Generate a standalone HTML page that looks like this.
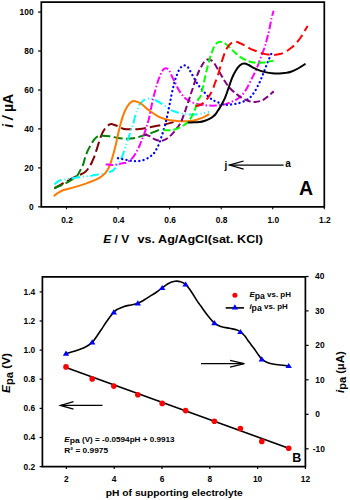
<!DOCTYPE html>
<html><head><meta charset="utf-8"><style>
html,body{margin:0;padding:0;background:#fff;}
svg{display:block;}
text{font-family:"Liberation Sans",sans-serif;font-weight:bold;fill:#000;}
</style></head>
<body><svg width="350" height="500" viewBox="0 0 350 500">
<rect width="350" height="500" fill="#fff"/>
<path d="M54.4,188.2 C55.0,187.8 56.2,187.0 58.0,186.0 C59.8,185.0 62.7,183.5 65.0,182.2 C67.3,180.9 70.2,179.3 72.0,178.3 C73.8,177.3 74.5,177.0 76.0,176.4 C77.5,175.8 79.1,175.3 80.7,174.5 C82.3,173.7 84.3,172.6 85.7,171.4 C87.1,170.2 88.2,168.7 89.3,167.1 C90.3,165.5 91.2,163.8 92.0,162.0 C92.8,160.2 93.3,159.2 94.3,156.6 C95.2,154.0 96.6,149.7 97.7,146.3 C98.8,142.9 99.9,138.9 101.1,136.0 C102.2,133.1 103.3,130.9 104.6,129.1 C105.9,127.2 107.8,125.8 108.9,124.9 C110.0,124.1 110.2,123.9 111.4,124.0 C112.6,124.1 114.6,124.9 116.0,125.5 C117.4,126.1 118.7,126.8 120.0,127.4 C121.3,128.0 122.2,128.6 124.0,128.9 C125.8,129.2 128.4,129.2 131.0,129.2 C133.6,129.2 136.4,129.3 139.4,129.0 C142.4,128.7 145.8,128.0 149.0,127.4 C152.2,126.8 155.9,126.1 158.6,125.6 C161.3,125.1 162.5,125.0 165.0,124.4 C167.5,123.8 172.2,122.5 173.6,122.1" fill="none" stroke="#800000" stroke-width="2.0" stroke-dasharray="10.5,4" stroke-linecap="butt" stroke-linejoin="round"/>
<path d="M54.3,188.6 C55.1,188.2 57.3,187.0 59.3,186.1 C61.3,185.2 64.0,184.2 66.4,182.9 C68.8,181.7 71.8,179.8 73.6,178.6 C75.4,177.4 76.0,177.1 77.0,176.0 C78.0,174.9 78.3,173.9 79.3,172.1 C80.3,170.3 82.0,167.3 82.9,165.0 C83.9,162.7 84.2,160.3 85.0,158.0 C85.8,155.7 86.4,153.6 87.4,151.4 C88.4,149.2 89.8,146.6 90.9,144.6 C92.1,142.6 93.2,140.8 94.3,139.4 C95.4,138.0 96.3,136.9 97.7,136.3 C99.1,135.7 100.9,135.7 102.9,135.7 C104.9,135.7 107.4,136.0 109.7,136.3 C112.0,136.6 114.4,137.3 116.6,137.7 C118.8,138.1 120.5,138.4 122.9,138.6 C125.3,138.8 128.7,138.8 131.0,138.6 C133.3,138.4 134.8,138.2 137.0,137.6 C139.2,137.0 142.0,135.9 144.2,135.2 C146.4,134.5 148.4,134.0 150.2,133.4 C152.0,132.8 153.4,132.3 155.0,131.6 C156.6,130.9 159.2,129.7 160.0,129.3" fill="none" stroke="#008000" stroke-width="2.0" stroke-dasharray="9,3.5" stroke-linecap="butt" stroke-linejoin="round"/>
<path d="M54.3,184.3 C55.1,183.7 57.3,181.5 59.3,180.7 C61.3,179.9 64.0,179.7 66.4,179.3 C68.8,178.9 71.0,178.5 73.6,178.1 C76.2,177.7 79.4,177.0 82.1,176.7 C84.8,176.3 87.3,176.4 90.0,176.0 C92.7,175.6 95.3,174.9 98.0,174.4 C100.7,173.9 103.7,173.6 106.0,173.0 C108.3,172.4 110.3,171.9 112.0,171.0 C113.7,170.1 114.8,168.8 116.0,167.5 C117.2,166.2 118.0,164.8 119.0,163.0 C120.0,161.2 121.0,159.4 122.0,157.0 C123.0,154.6 124.1,151.0 125.0,148.4 C125.9,145.8 126.5,144.0 127.4,141.2 C128.3,138.4 129.4,134.6 130.4,131.6 C131.4,128.6 132.6,125.9 133.4,123.2 C134.2,120.5 134.7,117.7 135.3,115.5 C135.9,113.3 136.5,111.8 137.2,110.0 C137.9,108.2 138.5,106.2 139.7,104.5 C140.9,102.8 142.6,100.8 144.3,99.8 C146.0,98.8 148.1,98.5 150.0,98.6 C151.9,98.7 153.8,99.5 156.0,100.5 C158.2,101.5 160.7,103.0 163.0,104.5 C165.3,106.0 167.8,108.2 170.0,109.5 C172.2,110.8 173.6,111.2 176.0,112.0 C178.4,112.8 181.5,113.6 184.3,114.0 C187.1,114.4 190.1,114.5 192.9,114.5 C195.8,114.5 198.7,114.2 201.4,113.7 C204.1,113.2 207.7,112.1 209.0,111.8" fill="none" stroke="#00ffff" stroke-width="2.0" stroke-dasharray="8.5,3,1,2.6,1,2.7" stroke-linecap="butt" stroke-linejoin="round"/>
<path d="M54.3,195.7 C54.9,195.2 56.5,193.8 58.0,192.9 C59.5,192.0 61.0,190.9 63.6,190.0 C66.2,189.1 70.3,188.3 73.6,187.4 C76.9,186.5 80.9,185.3 83.6,184.4 C86.3,183.5 87.9,182.8 90.0,182.0 C92.1,181.2 94.2,180.4 96.0,179.6 C97.8,178.8 99.0,178.2 100.5,177.2 C102.0,176.2 103.8,174.6 105.0,173.4 C106.2,172.2 106.7,171.3 107.5,170.0 C108.3,168.7 109.1,167.2 109.8,165.4 C110.5,163.7 111.1,161.6 111.8,159.5 C112.5,157.4 113.1,155.3 113.8,152.6 C114.5,149.8 115.4,146.5 116.2,143.0 C117.0,139.5 117.8,135.3 118.6,131.8 C119.4,128.3 120.1,125.4 121.0,122.2 C121.9,119.0 123.1,115.3 124.2,112.6 C125.3,109.9 126.2,108.0 127.4,106.2 C128.6,104.4 130.1,102.6 131.4,101.8 C132.7,101.0 133.4,100.9 135.0,101.2 C136.6,101.5 138.6,102.0 140.9,103.5 C143.2,105.0 146.1,108.2 148.9,110.3 C151.8,112.4 155.3,114.8 158.0,116.3 C160.7,117.8 162.7,118.3 165.0,119.0 C167.3,119.7 169.5,120.2 172.0,120.6 C174.5,121.0 177.7,121.1 180.0,121.2 C182.3,121.3 183.8,121.3 186.0,121.2 C188.2,121.1 190.3,121.2 192.9,120.7 C195.5,120.2 198.8,119.1 201.4,118.1 C204.0,117.1 207.3,115.1 208.5,114.5" fill="none" stroke="#ff7a00" stroke-width="2.0" stroke-linecap="round" stroke-linejoin="round"/>
<path d="M105.7,164.4 C106.8,164.5 110.0,165.0 112.0,165.0 C114.0,165.0 116.2,164.7 118.0,164.4 C119.8,164.1 121.2,163.5 122.5,163.2 C123.8,162.9 124.4,163.3 125.6,162.8 C126.8,162.3 128.5,161.4 129.8,160.4 C131.1,159.4 132.3,158.2 133.4,156.8 C134.5,155.4 135.4,153.8 136.4,152.0 C137.4,150.2 138.5,148.0 139.4,146.0 C140.3,144.0 141.0,142.0 141.8,140.0 C142.6,138.0 143.4,136.2 144.2,134.0 C145.0,131.8 145.8,129.4 146.6,126.8 C147.4,124.2 148.2,121.5 149.0,118.4 C149.8,115.3 150.4,111.4 151.1,108.0 C151.8,104.6 152.5,101.2 153.3,98.0 C154.1,94.8 154.9,91.7 155.7,88.9 C156.5,86.1 157.2,83.3 158.0,81.0 C158.8,78.7 159.6,76.8 160.3,75.1 C161.1,73.3 161.7,71.6 162.5,70.5 C163.3,69.4 164.1,68.8 164.9,68.5 C165.7,68.2 166.4,68.3 167.2,68.7 C167.9,69.1 168.6,69.5 169.4,70.8 C170.2,72.1 171.2,74.7 172.0,76.5 C172.8,78.3 173.5,79.5 174.5,81.5 C175.5,83.5 176.9,86.5 178.0,88.5 C179.1,90.5 179.9,92.0 181.0,93.5 C182.1,95.0 183.2,96.3 184.3,97.4 C185.4,98.5 186.3,99.1 187.7,100.0 C189.1,100.9 190.9,101.8 192.9,102.6 C194.9,103.3 197.8,104.1 199.7,104.5 C201.6,104.9 202.6,105.0 204.3,105.2 C206.0,105.4 208.1,105.5 210.0,105.6 C211.9,105.7 213.7,105.7 215.7,105.6 C217.7,105.5 220.1,105.1 222.0,104.8 C223.9,104.5 225.7,104.0 227.1,103.6 C228.5,103.2 229.1,102.9 230.7,102.2 C232.2,101.5 234.7,100.6 236.4,99.6 C238.1,98.6 239.3,97.8 240.7,96.4 C242.1,95.0 243.6,93.5 245.0,91.4 C246.4,89.3 248.0,86.1 249.3,83.6 C250.6,81.1 251.8,78.6 252.9,76.4 C254.0,74.2 254.8,72.8 255.7,70.7 C256.6,68.6 257.7,65.9 258.6,63.6 C259.5,61.3 260.0,59.6 261.0,57.0 C262.0,54.4 263.4,50.9 264.4,48.0 C265.4,45.1 266.0,42.6 266.8,39.6 C267.6,36.6 268.4,33.6 269.2,30.0 C270.0,26.4 270.9,21.2 271.6,18.0 C272.3,14.8 273.3,12.0 273.6,10.8" fill="none" stroke="#ff00ff" stroke-width="2.0" stroke-dasharray="7.5,2.2,1.5,2.2" stroke-linecap="butt" stroke-linejoin="round"/>
<path d="M118.0,158.2 C119.4,158.5 123.4,159.3 126.2,159.8 C129.0,160.3 131.8,161.1 134.6,161.2 C137.4,161.3 140.4,161.0 143.0,160.2 C145.6,159.4 148.3,157.8 150.2,156.5 C152.1,155.2 153.0,154.5 154.4,152.6 C155.8,150.7 157.4,147.5 158.6,144.8 C159.8,142.1 160.7,139.1 161.6,136.4 C162.5,133.7 163.2,131.3 164.0,128.6 C164.8,125.9 165.5,123.4 166.3,120.0 C167.1,116.6 168.0,112.2 168.9,108.0 C169.8,103.8 170.7,99.0 171.5,95.0 C172.3,91.0 173.2,87.2 174.0,84.0 C174.8,80.8 175.5,78.6 176.5,76.0 C177.5,73.4 178.8,70.2 180.0,68.5 C181.2,66.8 182.5,65.9 183.5,65.5 C184.5,65.1 185.1,65.5 186.0,66.0 C186.9,66.5 188.1,67.2 189.0,68.5 C189.9,69.8 189.9,70.8 191.5,73.5 C193.1,76.2 196.1,81.8 198.3,85.0 C200.6,88.2 203.1,90.8 205.0,93.0 C206.9,95.2 208.2,96.6 210.0,98.0 C211.8,99.4 213.2,100.3 215.7,101.4 C218.2,102.5 222.2,104.3 224.9,104.8 C227.6,105.3 229.7,104.6 232.1,104.3 C234.5,104.0 237.1,103.6 239.3,103.0 C241.5,102.4 243.6,101.5 245.4,100.6 C247.2,99.7 248.6,99.0 250.2,97.4 C251.8,95.8 253.5,93.4 254.9,91.2 C256.3,89.0 257.6,86.4 258.8,84.0 C260.0,81.6 260.9,79.2 262.0,76.7 C263.1,74.2 264.1,71.5 265.1,68.9 C266.1,66.3 267.1,63.6 268.2,61.0 C269.3,58.4 271.0,54.6 271.6,53.3" fill="none" stroke="#0000ff" stroke-width="2.3" stroke-dasharray="0.1,4.2" stroke-linecap="round" stroke-linejoin="round"/>
<path d="M144.2,134.6 C145.0,134.8 147.4,135.1 149.0,135.8 C150.6,136.5 152.2,138.0 153.8,138.8 C155.4,139.6 157.2,140.3 158.6,140.6 C160.0,140.9 161.0,141.0 162.5,140.6 C164.0,140.2 165.8,139.4 167.5,138.2 C169.2,137.0 170.9,135.3 172.5,133.6 C174.1,131.9 175.7,129.8 177.0,128.0 C178.3,126.2 179.3,125.2 180.5,123.0 C181.7,120.8 182.8,117.7 184.0,114.5 C185.2,111.3 186.4,107.2 187.5,104.0 C188.6,100.8 189.6,97.8 190.5,95.0 C191.4,92.2 192.3,89.8 193.2,87.0 C194.1,84.2 195.0,81.2 196.0,78.5 C197.0,75.8 198.0,73.2 199.0,71.0 C200.0,68.8 201.0,67.1 201.9,65.5 C202.8,63.9 203.6,62.5 204.5,61.5 C205.4,60.5 206.4,59.8 207.4,59.5 C208.4,59.2 209.3,59.4 210.5,60.0 C211.7,60.6 212.5,60.9 214.3,63.4 C216.1,65.9 219.3,71.9 221.1,74.9 C222.9,77.9 223.6,79.4 225.0,81.5 C226.4,83.6 227.6,85.6 229.3,87.5 C231.0,89.4 233.1,91.2 235.0,92.8 C236.9,94.4 238.5,96.0 240.7,97.3 C242.8,98.6 245.5,100.0 247.9,100.8 C250.3,101.6 252.6,102.0 255.0,101.9 C257.4,101.8 260.0,101.3 262.1,100.4 C264.2,99.5 265.9,97.9 267.9,96.4 C269.8,94.9 272.8,92.2 273.8,91.4" fill="none" stroke="#800080" stroke-width="2.0" stroke-dasharray="6.5,3" stroke-linecap="butt" stroke-linejoin="round"/>
<path d="M163.5,130.0 C164.2,130.1 166.5,130.3 168.0,130.3 C169.5,130.3 170.8,130.4 172.3,130.1 C173.8,129.8 175.7,129.1 177.1,128.6 C178.5,128.1 179.8,127.6 181.0,127.0 C182.2,126.4 183.4,125.5 184.5,124.8 C185.6,124.0 186.5,123.5 187.5,122.5 C188.5,121.5 189.6,119.9 190.5,118.5 C191.4,117.1 192.2,115.6 193.0,114.0 C193.8,112.4 194.3,111.3 195.1,109.0 C195.9,106.7 197.1,102.2 198.0,100.0 C198.9,97.8 199.8,98.2 200.6,96.0 C201.4,93.8 202.2,90.2 203.0,87.0 C203.8,83.8 204.3,80.4 205.1,77.1 C205.8,73.8 206.7,70.0 207.5,67.0 C208.3,64.0 208.9,61.4 209.7,58.9 C210.4,56.4 211.2,54.1 212.0,52.0 C212.8,49.9 213.5,47.8 214.3,46.3 C215.1,44.8 216.1,43.8 217.0,43.0 C217.9,42.2 219.0,41.8 220.0,41.7 C221.0,41.6 222.1,42.1 223.0,42.5 C223.9,42.9 224.5,43.1 225.7,44.0 C226.9,44.9 228.5,46.4 230.0,47.8 C231.5,49.2 233.1,51.0 234.9,52.6 C236.7,54.2 238.4,55.9 240.7,57.3 C243.0,58.7 246.0,60.3 248.6,61.2 C251.2,62.1 253.8,62.6 256.4,62.8 C259.0,63.0 262.2,62.7 264.3,62.5 C266.4,62.3 267.4,61.9 269.0,61.6 C270.6,61.3 272.8,60.8 273.6,60.6" fill="none" stroke="#00ff00" stroke-width="2.0" stroke-dasharray="7,3" stroke-linecap="butt" stroke-linejoin="round"/>
<path d="M195.4,106.1 C196.1,106.0 198.2,105.8 199.4,105.3 C200.7,104.8 201.8,104.2 202.9,103.3 C204.1,102.4 205.2,101.2 206.3,99.9 C207.4,98.6 208.6,97.2 209.7,95.3 C210.8,93.4 212.2,90.5 213.1,88.4 C214.0,86.4 214.2,85.1 215.0,83.0 C215.8,80.9 216.8,78.8 217.7,76.0 C218.6,73.2 219.6,69.2 220.5,66.0 C221.4,62.8 222.5,59.3 223.4,56.6 C224.3,53.9 225.1,51.9 226.0,50.0 C226.9,48.1 228.1,46.4 229.1,45.1 C230.1,43.9 231.0,43.1 232.0,42.5 C233.0,41.9 233.9,41.7 234.9,41.7 C235.9,41.7 236.9,41.9 238.0,42.3 C239.1,42.7 240.4,43.4 241.7,44.0 C243.0,44.6 244.6,45.2 246.0,46.0 C247.4,46.8 248.3,47.8 250.0,48.6 C251.7,49.4 254.0,50.2 256.0,51.0 C258.0,51.8 260.0,52.8 262.0,53.4 C264.0,54.0 266.0,54.4 268.0,54.6 C270.0,54.9 272.0,55.0 274.0,54.9 C276.0,54.8 278.2,54.5 280.0,54.0 C281.8,53.5 283.1,53.1 284.8,52.2 C286.5,51.3 288.5,49.9 290.0,48.8 C291.5,47.7 292.7,46.8 294.0,45.5 C295.3,44.2 296.8,42.4 298.0,41.0 C299.2,39.6 300.0,38.5 301.0,37.0 C302.0,35.5 302.9,33.8 304.0,32.0 C305.1,30.2 307.0,27.0 307.6,26.0" fill="none" stroke="#ff0000" stroke-width="2.0" stroke-dasharray="9,4.5" stroke-linecap="butt" stroke-linejoin="round"/>
<path d="M188.5,122.4 C189.4,122.4 192.1,122.3 194.0,122.2 C195.9,122.1 197.9,122.2 199.7,122.0 C201.5,121.8 203.4,121.2 204.9,120.7 C206.4,120.2 207.6,119.8 208.9,119.2 C210.2,118.6 211.4,117.9 212.5,117.0 C213.6,116.1 214.8,115.1 215.7,114.0 C216.6,112.9 217.2,111.7 218.0,110.5 C218.8,109.3 219.5,108.3 220.3,107.0 C221.1,105.7 221.9,104.0 222.7,102.5 C223.5,101.0 224.0,100.3 225.0,97.9 C226.0,95.5 227.4,91.2 228.6,87.9 C229.8,84.6 230.9,80.8 232.1,77.9 C233.3,75.0 234.4,72.8 235.7,70.7 C237.0,68.6 238.6,66.5 240.0,65.3 C241.4,64.1 242.9,63.6 244.3,63.6 C245.7,63.6 247.1,64.3 248.6,65.0 C250.1,65.7 251.8,67.0 253.6,67.9 C255.4,68.8 257.2,69.7 259.3,70.4 C261.4,71.2 264.3,71.9 266.4,72.4 C268.5,72.9 269.8,73.1 272.0,73.3 C274.2,73.5 277.5,73.5 279.7,73.5 C281.9,73.5 283.1,73.3 285.0,73.0 C286.9,72.7 288.8,72.5 291.0,71.7 C293.2,71.0 295.7,69.8 298.0,68.5 C300.3,67.2 303.8,64.9 304.9,64.2" fill="none" stroke="#000000" stroke-width="2.0" stroke-linecap="round" stroke-linejoin="round"/>
<path d="M41.3,2.1 H324.3 V206.8 H41.3 Z" fill="none" stroke="#000" stroke-width="1.7"/>
<line x1="38.1" y1="206.8" x2="41.3" y2="206.8" stroke="#000" stroke-width="1.2"/>
<text transform="translate(33.60,209.80)" text-anchor="end" font-size="8.40">0</text>
<line x1="38.1" y1="167.9" x2="41.3" y2="167.9" stroke="#000" stroke-width="1.2"/>
<text transform="translate(33.60,170.85)" text-anchor="end" font-size="8.40">20</text>
<line x1="38.1" y1="128.9" x2="41.3" y2="128.9" stroke="#000" stroke-width="1.2"/>
<text transform="translate(33.60,131.90)" text-anchor="end" font-size="8.40">40</text>
<line x1="38.1" y1="90.0" x2="41.3" y2="90.0" stroke="#000" stroke-width="1.2"/>
<text transform="translate(33.60,92.95)" text-anchor="end" font-size="8.40">60</text>
<line x1="38.1" y1="51.0" x2="41.3" y2="51.0" stroke="#000" stroke-width="1.2"/>
<text transform="translate(33.60,54.00)" text-anchor="end" font-size="8.40">80</text>
<line x1="38.1" y1="12.1" x2="41.3" y2="12.1" stroke="#000" stroke-width="1.2"/>
<text transform="translate(33.60,15.05)" text-anchor="end" font-size="8.40">100</text>
<line x1="66.5" y1="206.8" x2="66.5" y2="209.2" stroke="#000" stroke-width="1.1"/>
<text transform="translate(67.00,222.60)" text-anchor="middle" font-size="8.40">0.2</text>
<line x1="118.1" y1="206.8" x2="118.1" y2="209.2" stroke="#000" stroke-width="1.1"/>
<text transform="translate(118.56,222.60)" text-anchor="middle" font-size="8.40">0.4</text>
<line x1="169.6" y1="206.8" x2="169.6" y2="209.2" stroke="#000" stroke-width="1.1"/>
<text transform="translate(170.12,222.60)" text-anchor="middle" font-size="8.40">0.6</text>
<line x1="221.2" y1="206.8" x2="221.2" y2="209.2" stroke="#000" stroke-width="1.1"/>
<text transform="translate(221.68,222.60)" text-anchor="middle" font-size="8.40">0.8</text>
<line x1="272.7" y1="206.8" x2="272.7" y2="209.2" stroke="#000" stroke-width="1.1"/>
<text transform="translate(273.24,222.60)" text-anchor="middle" font-size="8.40">1.0</text>
<line x1="324.3" y1="206.8" x2="324.3" y2="209.2" stroke="#000" stroke-width="1.1"/>
<text transform="translate(324.80,222.60)" text-anchor="middle" font-size="8.40">1.2</text>
<text transform="translate(13.30,110.80) rotate(-90)" text-anchor="middle" font-size="14.00"><tspan font-style="italic">i / </tspan>&#181;A</text>
<text transform="translate(103.20,243.40) scale(1.100,1)" text-anchor="start" font-size="10.90"><tspan font-style="italic">E</tspan> / V</text>
<text x="137.6" y="243.4" font-size="10.9" textLength="125.3" lengthAdjust="spacingAndGlyphs">vs. Ag/AgCl(sat. KCl)</text>
<text transform="translate(306.00,195.20)" text-anchor="middle" font-size="19.50">A</text>
<line x1="229.5" y1="165.1" x2="283.6" y2="165.1" stroke="#000" stroke-width="1.3"/>
<path d="M243.6,161 L229.5,165.1 L243.6,169.2" fill="none" stroke="#000" stroke-width="1.3"/>
<text transform="translate(226.00,168.60)" text-anchor="middle" font-size="10.00">j</text>
<text transform="translate(288.00,166.70)" text-anchor="middle" font-size="10.00">a</text>
<path d="M66.0,353.6 C67.5,353.2 71.8,352.1 75.0,351.0 C78.2,349.9 82.1,348.6 85.0,347.2 C87.9,345.8 90.2,344.3 92.2,342.4 C94.2,340.5 95.5,338.1 97.0,336.0 C98.5,333.9 99.3,332.5 101.0,330.0 C102.7,327.5 104.9,323.9 107.0,321.0 C109.1,318.1 111.9,314.2 113.6,312.3 C115.3,310.4 115.5,310.3 117.1,309.4 C118.6,308.5 121.0,307.6 122.9,306.9 C124.8,306.2 126.7,305.8 128.6,305.4 C130.5,305.0 132.8,304.6 134.3,304.3 C135.8,304.0 136.4,303.9 137.8,303.3 C139.2,302.7 141.1,301.7 142.9,300.7 C144.7,299.7 146.4,298.5 148.6,297.1 C150.8,295.7 153.7,294.1 156.0,292.5 C158.3,290.9 160.3,289.3 162.3,287.8 C164.3,286.3 165.9,284.8 168.0,283.7 C170.1,282.6 172.8,281.6 174.9,281.3 C177.0,281.0 178.8,281.2 180.6,281.7 C182.4,282.2 183.9,282.8 185.6,284.3 C187.3,285.9 189.1,288.4 190.9,291.0 C192.7,293.6 195.0,297.7 196.6,300.1 C198.2,302.5 198.6,302.9 200.3,305.3 C202.1,307.7 204.7,311.7 207.1,314.7 C209.5,317.7 212.2,321.2 214.5,323.2 C216.8,325.2 218.4,325.6 220.9,326.5 C223.4,327.4 226.8,327.8 229.4,328.3 C232.0,328.9 234.5,329.2 236.3,329.8 C238.1,330.4 239.0,330.8 240.4,331.8 C241.8,332.9 243.5,334.4 244.9,336.1 C246.3,337.8 247.6,340.1 249.1,342.1 C250.6,344.1 252.1,345.8 253.7,348.0 C255.3,350.2 257.5,353.6 258.9,355.5 C260.3,357.4 260.5,358.0 261.9,359.2 C263.3,360.4 265.3,361.8 267.4,362.6 C269.5,363.5 271.7,363.9 274.3,364.3 C276.9,364.8 280.5,365.1 282.9,365.3 C285.3,365.6 287.7,365.7 288.7,365.8" fill="none" stroke="#000" stroke-width="1.6"/>
<line x1="66" y1="367.4" x2="288.7" y2="448.3" stroke="#000" stroke-width="1.6"/>
<path d="M66.0,350.5 L69.2,355.7 L62.8,355.7 Z" fill="#0000ff"/>
<path d="M92.2,339.3 L95.4,344.5 L89.0,344.5 Z" fill="#0000ff"/>
<path d="M113.8,309.2 L117.0,314.4 L110.6,314.4 Z" fill="#0000ff"/>
<path d="M137.8,300.2 L141.0,305.4 L134.6,305.4 Z" fill="#0000ff"/>
<path d="M162.2,284.9 L165.4,290.1 L159.0,290.1 Z" fill="#0000ff"/>
<path d="M185.6,281.4 L188.8,286.6 L182.4,286.6 Z" fill="#0000ff"/>
<path d="M214.4,320.1 L217.6,325.3 L211.2,325.3 Z" fill="#0000ff"/>
<path d="M240.4,328.9 L243.6,334.1 L237.2,334.1 Z" fill="#0000ff"/>
<path d="M261.8,356.2 L265.0,361.4 L258.6,361.4 Z" fill="#0000ff"/>
<path d="M288.7,362.9 L291.9,368.1 L285.5,368.1 Z" fill="#0000ff"/>
<circle cx="66.0" cy="366.9" r="2.8" fill="#ff0000"/>
<circle cx="92.2" cy="378.9" r="2.8" fill="#ff0000"/>
<circle cx="113.8" cy="386.1" r="2.8" fill="#ff0000"/>
<circle cx="137.8" cy="394.8" r="2.8" fill="#ff0000"/>
<circle cx="162.2" cy="403.4" r="2.8" fill="#ff0000"/>
<circle cx="185.6" cy="410.6" r="2.8" fill="#ff0000"/>
<circle cx="214.4" cy="421.3" r="2.8" fill="#ff0000"/>
<circle cx="240.4" cy="428.6" r="2.8" fill="#ff0000"/>
<circle cx="261.8" cy="441.4" r="2.8" fill="#ff0000"/>
<circle cx="288.7" cy="448.3" r="2.8" fill="#ff0000"/>
<path d="M42.4,276.9 H305.4 V466.6 H42.4 Z" fill="none" stroke="#000" stroke-width="1.7"/>
<line x1="39.6" y1="466.6" x2="42.4" y2="466.6" stroke="#000" stroke-width="1.2"/>
<text transform="translate(35.20,469.60)" text-anchor="end" font-size="8.40">0.2</text>
<line x1="39.6" y1="437.5" x2="42.4" y2="437.5" stroke="#000" stroke-width="1.2"/>
<text transform="translate(35.20,440.48)" text-anchor="end" font-size="8.40">0.4</text>
<line x1="39.6" y1="408.4" x2="42.4" y2="408.4" stroke="#000" stroke-width="1.2"/>
<text transform="translate(35.20,411.36)" text-anchor="end" font-size="8.40">0.6</text>
<line x1="39.6" y1="379.2" x2="42.4" y2="379.2" stroke="#000" stroke-width="1.2"/>
<text transform="translate(35.20,382.24)" text-anchor="end" font-size="8.40">0.8</text>
<line x1="39.6" y1="350.1" x2="42.4" y2="350.1" stroke="#000" stroke-width="1.2"/>
<text transform="translate(35.20,353.12)" text-anchor="end" font-size="8.40">1.0</text>
<line x1="39.6" y1="321.0" x2="42.4" y2="321.0" stroke="#000" stroke-width="1.2"/>
<text transform="translate(35.20,324.00)" text-anchor="end" font-size="8.40">1.2</text>
<line x1="39.6" y1="291.9" x2="42.4" y2="291.9" stroke="#000" stroke-width="1.2"/>
<text transform="translate(35.20,294.88)" text-anchor="end" font-size="8.40">1.4</text>
<line x1="305.4" y1="276.5" x2="308.6" y2="276.5" stroke="#000" stroke-width="1.2"/>
<text transform="translate(315.00,279.46)" text-anchor="start" font-size="8.40">40</text>
<line x1="305.4" y1="310.9" x2="308.6" y2="310.9" stroke="#000" stroke-width="1.2"/>
<text transform="translate(315.00,313.92)" text-anchor="start" font-size="8.40">30</text>
<line x1="305.4" y1="345.4" x2="308.6" y2="345.4" stroke="#000" stroke-width="1.2"/>
<text transform="translate(315.30,348.38)" text-anchor="start" font-size="8.40">20</text>
<line x1="305.4" y1="379.8" x2="308.6" y2="379.8" stroke="#000" stroke-width="1.2"/>
<text transform="translate(315.30,382.84)" text-anchor="start" font-size="8.40">10</text>
<line x1="305.4" y1="414.3" x2="308.6" y2="414.3" stroke="#000" stroke-width="1.2"/>
<text transform="translate(315.30,417.30)" text-anchor="start" font-size="8.40">0</text>
<line x1="305.4" y1="448.8" x2="308.6" y2="448.8" stroke="#000" stroke-width="1.2"/>
<text transform="translate(312.80,451.76)" text-anchor="start" font-size="8.40">-10</text>
<line x1="66.4" y1="466.6" x2="66.4" y2="469.0" stroke="#000" stroke-width="1.2"/>
<text transform="translate(66.40,482.00)" text-anchor="middle" font-size="8.40">2</text>
<line x1="114.2" y1="466.6" x2="114.2" y2="469.0" stroke="#000" stroke-width="1.2"/>
<text transform="translate(114.20,482.00)" text-anchor="middle" font-size="8.40">4</text>
<line x1="162.0" y1="466.6" x2="162.0" y2="469.0" stroke="#000" stroke-width="1.2"/>
<text transform="translate(162.00,482.00)" text-anchor="middle" font-size="8.40">6</text>
<line x1="209.8" y1="466.6" x2="209.8" y2="469.0" stroke="#000" stroke-width="1.2"/>
<text transform="translate(209.80,482.00)" text-anchor="middle" font-size="8.40">8</text>
<line x1="257.6" y1="466.6" x2="257.6" y2="469.0" stroke="#000" stroke-width="1.2"/>
<text transform="translate(257.60,482.00)" text-anchor="middle" font-size="8.40">10</text>
<line x1="305.4" y1="466.6" x2="305.4" y2="469.0" stroke="#000" stroke-width="1.2"/>
<text transform="translate(305.40,482.00)" text-anchor="middle" font-size="8.40">12</text>
<text transform="translate(10.00,373.00) rotate(-90)" text-anchor="middle" font-size="11.80"><tspan font-style="italic">E</tspan><tspan font-size="11.2" dy="3.0">pa</tspan><tspan dy="-3.0"> (V)</tspan></text>
<text transform="translate(344.00,372.10) rotate(-90) scale(1.060,1)" text-anchor="middle" font-size="10.80"><tspan font-style="italic">i</tspan><tspan font-size="10.4" dy="2.4">pa</tspan><tspan dy="-2.4"> (&#181;A)</tspan></text>
<text x="105.8" y="496.2" font-size="8.6" textLength="137" lengthAdjust="spacingAndGlyphs">pH of supporting electrolyte</text>
<text transform="translate(296.70,462.40)" text-anchor="middle" font-size="12.50">B</text>
<circle cx="234.9" cy="295.3" r="2.5" fill="#ff0000"/>
<line x1="225.7" y1="307.9" x2="244" y2="307.9" stroke="#000" stroke-width="1.6"/>
<path d="M234.9,304.3 L238.1,309.5 L231.7,309.5 Z" fill="#0000ff"/>
<text transform="translate(249.40,297.00) scale(1.060,1)" text-anchor="start" font-size="7.50"><tspan font-style="italic">E</tspan><tspan font-size="8.2" dy="2.2">pa</tspan><tspan dy="-2.2"> vs. pH</tspan></text>
<text transform="translate(249.40,308.80) scale(1.060,1)" text-anchor="start" font-size="7.50"><tspan font-style="italic">i</tspan><tspan font-size="8.2" dy="2.2">pa</tspan><tspan dy="-2.2"> vs. pH</tspan></text>
<text transform="translate(64.30,441.50) scale(1.130,1)" text-anchor="start" font-size="7.20"><tspan font-style="italic">E</tspan><tspan font-size="7.6" dy="1.9">pa</tspan><tspan dy="-1.9"> (V) = -0.0594pH + 0.9913</tspan></text>
<text transform="translate(64.30,452.50) scale(1.160,1)" text-anchor="start" font-size="7.20">R&#178; = 0.9975</text>
<line x1="60.5" y1="405.4" x2="102.5" y2="405.4" stroke="#000" stroke-width="1.3"/>
<path d="M73.5,401.7 L60.5,405.4 L73.5,409.2" fill="none" stroke="#000" stroke-width="1.3"/>
<line x1="201" y1="363.7" x2="244.3" y2="363.7" stroke="#000" stroke-width="1.3"/>
<path d="M230.1,360.3 L244.3,363.7 L230.1,367.1" fill="none" stroke="#000" stroke-width="1.3"/>
</svg></body></html>
